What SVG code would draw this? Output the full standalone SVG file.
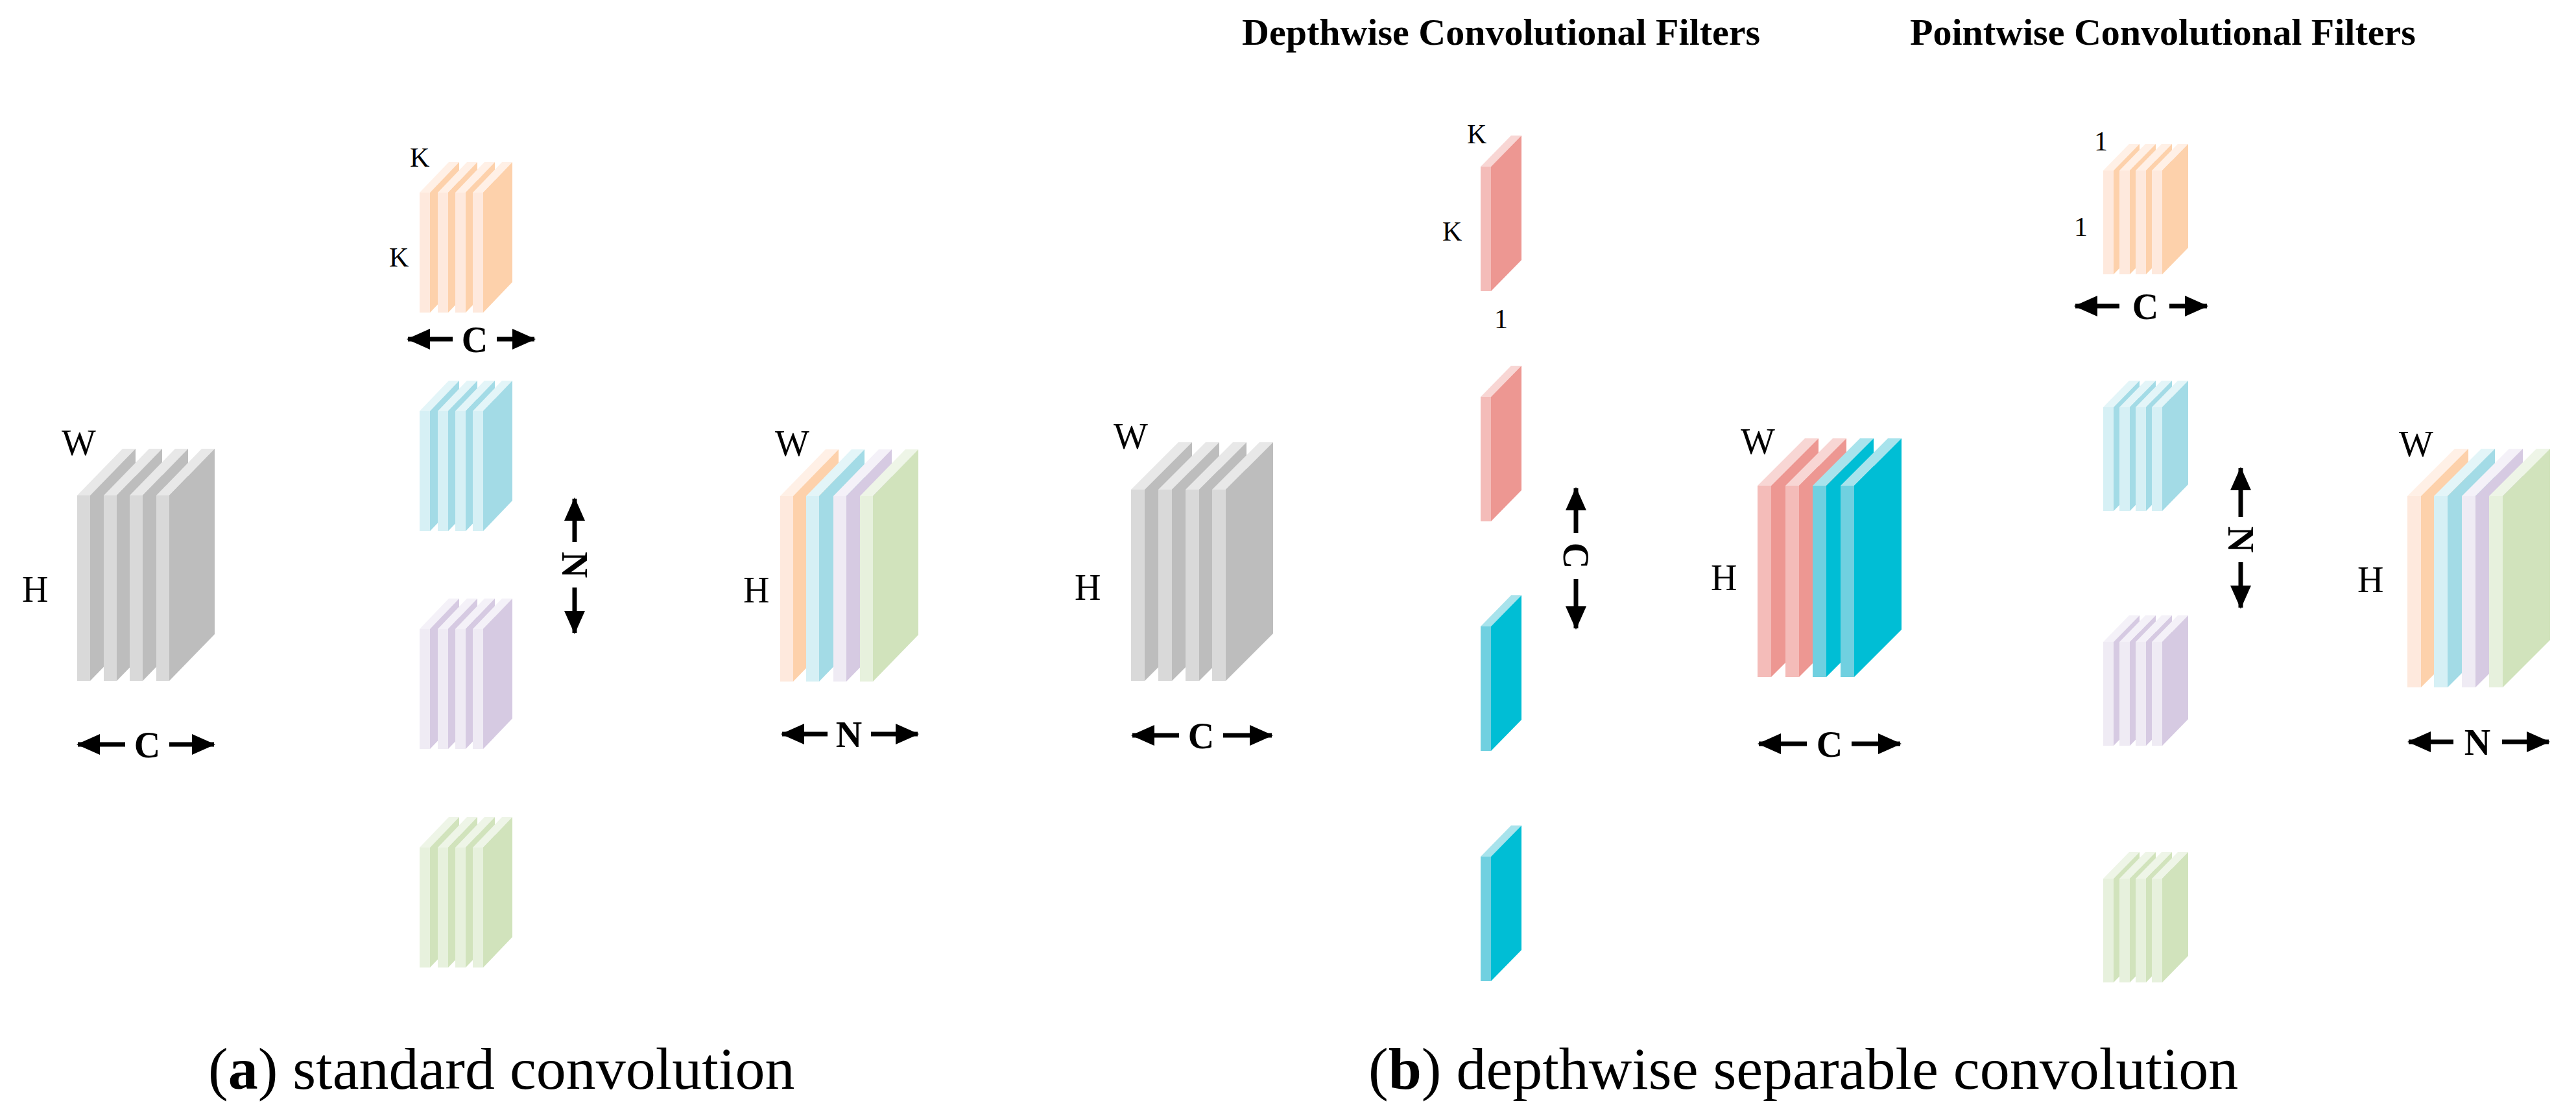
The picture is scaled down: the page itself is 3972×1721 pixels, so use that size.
<svg xmlns="http://www.w3.org/2000/svg" xmlns:xlink="http://www.w3.org/1999/xlink" width="3972" height="1721" viewBox="0 0 3972 1721">
<style>
.lbl{font-family:"Liberation Serif",serif;font-size:56px;fill:#000}
.sm{font-family:"Liberation Serif",serif;font-size:42px;fill:#000}
.dim{font-family:"Liberation Serif",serif;font-size:56px;font-weight:bold;fill:#000;text-anchor:middle}
.ttl{font-family:"Liberation Serif",serif;font-size:58px;font-weight:bold;fill:#000}
.cap{font-family:"Liberation Serif",serif;font-size:92px;fill:#000}
.arr{stroke:#000;stroke-width:7;fill:none;marker-end:url(#ah)}
.grF{fill:#d9d9d9}.grS{fill:#bdbdbd}.grT{fill:#e8e8e8}
.orF{fill:#fee9dd}.orS{fill:#fdd1ab}.orT{fill:#fff0e6}
.blF{fill:#d6f0f5}.blS{fill:#a3dbe6}.blT{fill:#e3f5f8}
.puF{fill:#efebf4}.puS{fill:#d6cae2}.puT{fill:#f4f1f8}
.gnF{fill:#e7f1dd}.gnS{fill:#d1e3bc}.gnT{fill:#eef5e7}
.pkF{fill:#f4bcb9}.pkS{fill:#ed9792}.pkT{fill:#f8d6d4}
.cyF{fill:#70d0e0}.cyS{fill:#00bed5}.cyT{fill:#a8e3ec}
</style>
<defs>
<marker id="ah" markerUnits="userSpaceOnUse" markerWidth="36" markerHeight="32" refX="34" refY="16" orient="auto"><path d="M0,0 L36,16 L0,32 z" fill="#000"/></marker>
<rect id="aF" x="0" y="0" width="20" height="286"/>
<path id="aS" d="M20 0 l70 -72 v286 l-70 72 z"/>
<path id="aT" d="M0 0 l70 -72 h20 l-70 72 z"/>
<rect id="bF" x="0" y="0" width="16" height="185"/>
<path id="bS" d="M16 0 l45 -47 v185 l-45 47 z"/>
<path id="bT" d="M0 0 l45 -47 h16 l-45 47 z"/>
<rect id="cF" x="0" y="0" width="21" height="295"/>
<path id="cS" d="M21 0 l73 -73 v295 l-73 73 z"/>
<path id="cT" d="M0 0 l73 -73 h21 l-73 73 z"/>
<rect id="dF" x="0" y="0" width="16" height="192"/>
<path id="dS" d="M16 0 l47 -48 v192 l-47 48 z"/>
<path id="dT" d="M0 0 l47 -48 h16 l-47 48 z"/>
<rect id="eF" x="0" y="0" width="16" height="160"/>
<path id="eS" d="M16 0 l40 -41 v160 l-40 41 z"/>
<path id="eT" d="M0 0 l40 -41 h16 l-40 41 z"/>
</defs>

<g id="input-a">
<use href="#aT" class="grT" x="119" y="764"/><use href="#aS" class="grS" x="119" y="764"/><use href="#aF" class="grF" x="119" y="764"/>
<use href="#aT" class="grT" x="160" y="764"/><use href="#aS" class="grS" x="160" y="764"/><use href="#aF" class="grF" x="160" y="764"/>
<use href="#aT" class="grT" x="200" y="764"/><use href="#aS" class="grS" x="200" y="764"/><use href="#aF" class="grF" x="200" y="764"/>
<use href="#aT" class="grT" x="241" y="764"/><use href="#aS" class="grS" x="241" y="764"/><use href="#aF" class="grF" x="241" y="764"/>
<text class="lbl" x="95" y="702">W</text><text class="lbl" x="34" y="928">H</text>
</g>

<g id="filters-a">
<g id="fa-orange">
<use href="#bT" class="orT" x="647" y="297"/><use href="#bS" class="orS" x="647" y="297"/><use href="#bF" class="orF" x="647" y="297"/>
<use href="#bT" class="orT" x="675" y="297"/><use href="#bS" class="orS" x="675" y="297"/><use href="#bF" class="orF" x="675" y="297"/>
<use href="#bT" class="orT" x="702" y="297"/><use href="#bS" class="orS" x="702" y="297"/><use href="#bF" class="orF" x="702" y="297"/>
<use href="#bT" class="orT" x="729" y="297"/><use href="#bS" class="orS" x="729" y="297"/><use href="#bF" class="orF" x="729" y="297"/>
</g>
<g id="fa-blue">
<use href="#bT" class="blT" x="647" y="634"/><use href="#bS" class="blS" x="647" y="634"/><use href="#bF" class="blF" x="647" y="634"/>
<use href="#bT" class="blT" x="675" y="634"/><use href="#bS" class="blS" x="675" y="634"/><use href="#bF" class="blF" x="675" y="634"/>
<use href="#bT" class="blT" x="702" y="634"/><use href="#bS" class="blS" x="702" y="634"/><use href="#bF" class="blF" x="702" y="634"/>
<use href="#bT" class="blT" x="729" y="634"/><use href="#bS" class="blS" x="729" y="634"/><use href="#bF" class="blF" x="729" y="634"/>
</g>
<g id="fa-purple">
<use href="#bT" class="puT" x="647" y="970"/><use href="#bS" class="puS" x="647" y="970"/><use href="#bF" class="puF" x="647" y="970"/>
<use href="#bT" class="puT" x="675" y="970"/><use href="#bS" class="puS" x="675" y="970"/><use href="#bF" class="puF" x="675" y="970"/>
<use href="#bT" class="puT" x="702" y="970"/><use href="#bS" class="puS" x="702" y="970"/><use href="#bF" class="puF" x="702" y="970"/>
<use href="#bT" class="puT" x="729" y="970"/><use href="#bS" class="puS" x="729" y="970"/><use href="#bF" class="puF" x="729" y="970"/>
</g>
<g id="fa-green">
<use href="#bT" class="gnT" x="647" y="1307"/><use href="#bS" class="gnS" x="647" y="1307"/><use href="#bF" class="gnF" x="647" y="1307"/>
<use href="#bT" class="gnT" x="675" y="1307"/><use href="#bS" class="gnS" x="675" y="1307"/><use href="#bF" class="gnF" x="675" y="1307"/>
<use href="#bT" class="gnT" x="702" y="1307"/><use href="#bS" class="gnS" x="702" y="1307"/><use href="#bF" class="gnF" x="702" y="1307"/>
<use href="#bT" class="gnT" x="729" y="1307"/><use href="#bS" class="gnS" x="729" y="1307"/><use href="#bF" class="gnF" x="729" y="1307"/>
</g>
<text class="sm" x="632" y="257">K</text><text class="sm" x="600" y="411">K</text>
</g>

<g id="output-a">
<use href="#aT" class="orT" x="1203" y="765"/><use href="#aS" class="orS" x="1203" y="765"/><use href="#aF" class="orF" x="1203" y="765"/>
<use href="#aT" class="blT" x="1243" y="765"/><use href="#aS" class="blS" x="1243" y="765"/><use href="#aF" class="blF" x="1243" y="765"/>
<use href="#aT" class="puT" x="1285" y="765"/><use href="#aS" class="puS" x="1285" y="765"/><use href="#aF" class="puF" x="1285" y="765"/>
<use href="#aT" class="gnT" x="1326" y="765"/><use href="#aS" class="gnS" x="1326" y="765"/><use href="#aF" class="gnF" x="1326" y="765"/>
<text class="lbl" x="1195" y="703">W</text><text class="lbl" x="1146" y="929">H</text>
</g>

<g id="input-b">
<use href="#cT" class="grT" x="1744" y="755"/><use href="#cS" class="grS" x="1744" y="755"/><use href="#cF" class="grF" x="1744" y="755"/>
<use href="#cT" class="grT" x="1786" y="755"/><use href="#cS" class="grS" x="1786" y="755"/><use href="#cF" class="grF" x="1786" y="755"/>
<use href="#cT" class="grT" x="1828" y="755"/><use href="#cS" class="grS" x="1828" y="755"/><use href="#cF" class="grF" x="1828" y="755"/>
<use href="#cT" class="grT" x="1869" y="755"/><use href="#cS" class="grS" x="1869" y="755"/><use href="#cF" class="grF" x="1869" y="755"/>
<text class="lbl" x="1717" y="692">W</text><text class="lbl" x="1657" y="925">H</text>
</g>

<g id="depthwise-filters">
<text class="ttl" x="1915" y="69">Depthwise Convolutional Filters</text>
<use href="#dT" class="pkT" x="2283" y="257"/><use href="#dS" class="pkS" x="2283" y="257"/><use href="#dF" class="pkF" x="2283" y="257"/>
<use href="#dT" class="pkT" x="2283" y="612"/><use href="#dS" class="pkS" x="2283" y="612"/><use href="#dF" class="pkF" x="2283" y="612"/>
<use href="#dT" class="cyT" x="2283" y="966"/><use href="#dS" class="cyS" x="2283" y="966"/><use href="#dF" class="cyF" x="2283" y="966"/>
<use href="#dT" class="cyT" x="2283" y="1321"/><use href="#dS" class="cyS" x="2283" y="1321"/><use href="#dF" class="cyF" x="2283" y="1321"/>
<text class="sm" x="2262" y="221">K</text><text class="sm" x="2224" y="371">K</text><text class="sm" x="2304" y="506">1</text>
</g>

<g id="intermediate-b">
<use href="#cT" class="pkT" x="2710" y="749"/><use href="#cS" class="pkS" x="2710" y="749"/><use href="#cF" class="pkF" x="2710" y="749"/>
<use href="#cT" class="pkT" x="2753" y="749"/><use href="#cS" class="pkS" x="2753" y="749"/><use href="#cF" class="pkF" x="2753" y="749"/>
<use href="#cT" class="cyT" x="2795" y="749"/><use href="#cS" class="cyS" x="2795" y="749"/><use href="#cF" class="cyF" x="2795" y="749"/>
<use href="#cT" class="cyT" x="2838" y="749"/><use href="#cS" class="cyS" x="2838" y="749"/><use href="#cF" class="cyF" x="2838" y="749"/>
<text class="lbl" x="2684" y="700">W</text><text class="lbl" x="2638" y="910">H</text>
</g>

<g id="pointwise-filters">
<text class="ttl" x="2945" y="69">Pointwise Convolutional Filters</text>
<g id="pw-orange">
<use href="#eT" class="orT" x="3243" y="263"/><use href="#eS" class="orS" x="3243" y="263"/><use href="#eF" class="orF" x="3243" y="263"/>
<use href="#eT" class="orT" x="3268" y="263"/><use href="#eS" class="orS" x="3268" y="263"/><use href="#eF" class="orF" x="3268" y="263"/>
<use href="#eT" class="orT" x="3293" y="263"/><use href="#eS" class="orS" x="3293" y="263"/><use href="#eF" class="orF" x="3293" y="263"/>
<use href="#eT" class="orT" x="3318" y="263"/><use href="#eS" class="orS" x="3318" y="263"/><use href="#eF" class="orF" x="3318" y="263"/>
</g>
<g id="pw-blue">
<use href="#eT" class="blT" x="3243" y="628"/><use href="#eS" class="blS" x="3243" y="628"/><use href="#eF" class="blF" x="3243" y="628"/>
<use href="#eT" class="blT" x="3268" y="628"/><use href="#eS" class="blS" x="3268" y="628"/><use href="#eF" class="blF" x="3268" y="628"/>
<use href="#eT" class="blT" x="3293" y="628"/><use href="#eS" class="blS" x="3293" y="628"/><use href="#eF" class="blF" x="3293" y="628"/>
<use href="#eT" class="blT" x="3318" y="628"/><use href="#eS" class="blS" x="3318" y="628"/><use href="#eF" class="blF" x="3318" y="628"/>
</g>
<g id="pw-purple">
<use href="#eT" class="puT" x="3243" y="990"/><use href="#eS" class="puS" x="3243" y="990"/><use href="#eF" class="puF" x="3243" y="990"/>
<use href="#eT" class="puT" x="3268" y="990"/><use href="#eS" class="puS" x="3268" y="990"/><use href="#eF" class="puF" x="3268" y="990"/>
<use href="#eT" class="puT" x="3293" y="990"/><use href="#eS" class="puS" x="3293" y="990"/><use href="#eF" class="puF" x="3293" y="990"/>
<use href="#eT" class="puT" x="3318" y="990"/><use href="#eS" class="puS" x="3318" y="990"/><use href="#eF" class="puF" x="3318" y="990"/>
</g>
<g id="pw-green">
<use href="#eT" class="gnT" x="3243" y="1355"/><use href="#eS" class="gnS" x="3243" y="1355"/><use href="#eF" class="gnF" x="3243" y="1355"/>
<use href="#eT" class="gnT" x="3268" y="1355"/><use href="#eS" class="gnS" x="3268" y="1355"/><use href="#eF" class="gnF" x="3268" y="1355"/>
<use href="#eT" class="gnT" x="3293" y="1355"/><use href="#eS" class="gnS" x="3293" y="1355"/><use href="#eF" class="gnF" x="3293" y="1355"/>
<use href="#eT" class="gnT" x="3318" y="1355"/><use href="#eS" class="gnS" x="3318" y="1355"/><use href="#eF" class="gnF" x="3318" y="1355"/>
</g>
<text class="sm" x="3229" y="232">1</text><text class="sm" x="3198" y="364">1</text>
</g>

<g id="output-b">
<use href="#cT" class="orT" x="3712" y="765"/><use href="#cS" class="orS" x="3712" y="765"/><use href="#cF" class="orF" x="3712" y="765"/>
<use href="#cT" class="blT" x="3753" y="765"/><use href="#cS" class="blS" x="3753" y="765"/><use href="#cF" class="blF" x="3753" y="765"/>
<use href="#cT" class="puT" x="3796" y="765"/><use href="#cS" class="puS" x="3796" y="765"/><use href="#cF" class="puF" x="3796" y="765"/>
<use href="#cT" class="gnT" x="3838" y="765"/><use href="#cS" class="gnS" x="3838" y="765"/><use href="#cF" class="gnF" x="3838" y="765"/>
<text class="lbl" x="3699" y="704">W</text><text class="lbl" x="3635" y="913">H</text>
</g>

<g id="connectors">
<path class="arr" d="M193 1148 H120"/><path class="arr" d="M261 1148 H330"/>
<path class="arr" d="M698 523 H629"/><path class="arr" d="M766 523 H824"/>
<path class="arr" d="M886 836 V769"/><path class="arr" d="M886 906 V976"/>
<path class="arr" d="M1276 1132 H1206"/><path class="arr" d="M1343 1132 H1415"/>
<path class="arr" d="M1818 1134 H1746"/><path class="arr" d="M1886 1134 H1961"/>
<path class="arr" d="M2430 822 V753"/><path class="arr" d="M2430 893 V969"/>
<path class="arr" d="M2786 1147 H2712"/><path class="arr" d="M2855 1147 H2930"/>
<path class="arr" d="M3268 472 H3200"/><path class="arr" d="M3345 472 H3403"/>
<path class="arr" d="M3455 797 V722"/><path class="arr" d="M3455 867 V937"/>
<path class="arr" d="M3783 1144 H3714"/><path class="arr" d="M3858 1144 H3930"/>
</g>
<g id="dim-labels">
<text class="dim" x="227" y="1168">C</text>
<text class="dim" x="732" y="543">C</text>
<text class="dim" transform="translate(886 871) rotate(90)" y="19">N</text>
<text class="dim" x="1309" y="1152">N</text>
<text class="dim" x="1852" y="1154">C</text>
<text class="dim" transform="translate(2430 857) rotate(90)" y="19">C</text>
<text class="dim" x="2821" y="1167">C</text>
<text class="dim" x="3308" y="492">C</text>
<text class="dim" transform="translate(3455 832) rotate(90)" y="19">N</text>
<text class="dim" x="3820" y="1164">N</text>
</g>
<g id="captions">
<text class="cap" x="321" y="1679">(<tspan font-weight="bold">a</tspan>) standard convolution</text>
<text class="cap" x="2110" y="1679">(<tspan font-weight="bold">b</tspan>) depthwise separable convolution</text>
</g>
</svg>
